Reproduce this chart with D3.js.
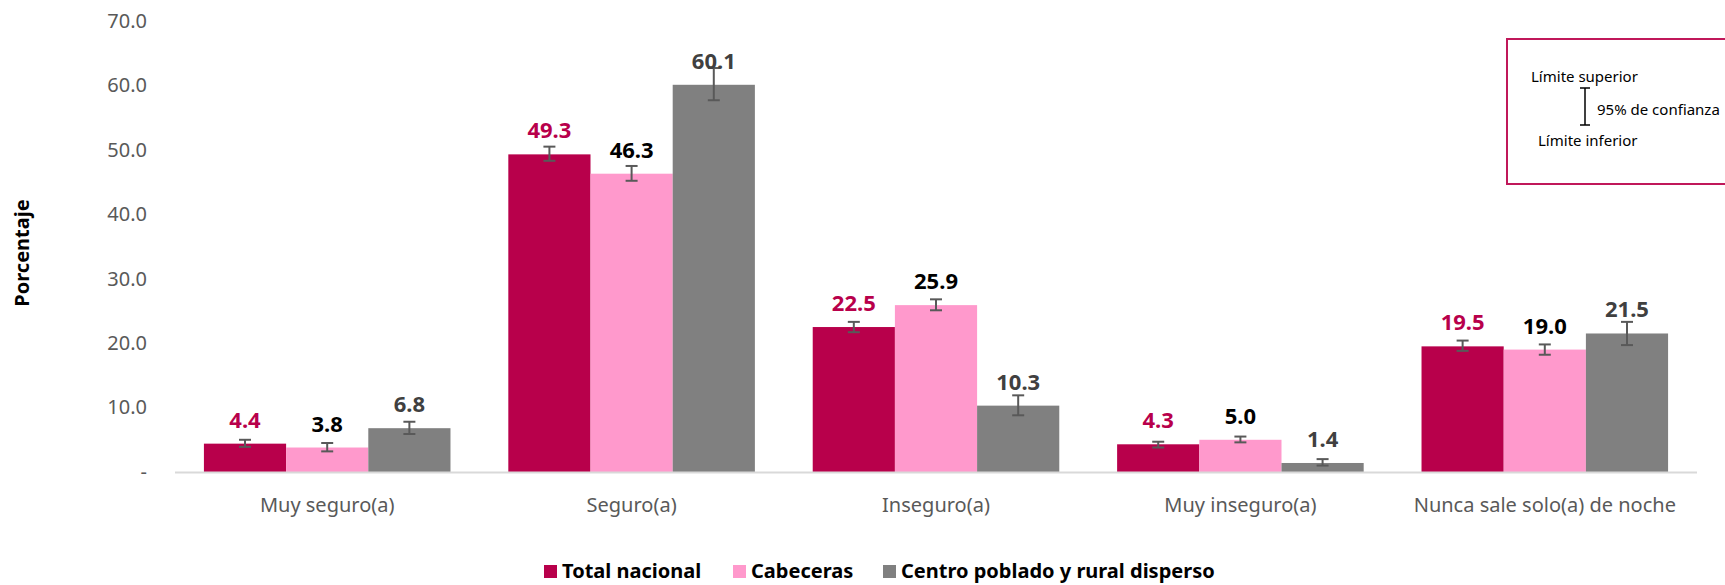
<!DOCTYPE html>
<html>
<head>
<meta charset="utf-8">
<script src="https://cdn.jsdelivr.net/npm/d3@7"></script>
<style>
  body { margin: 0; background: #fff; }
  svg text { font-family: "Noto Sans", "Open Sans", sans-serif; }
</style>
</head>
<body>
<div class="chart"></div>
<script>
var categories = ["Muy seguro(a)", "Seguro(a)", "Inseguro(a)", "Muy inseguro(a)", "Nunca sale solo(a) de noche"];
var seriesNames = ["Total nacional", "Cabeceras", "Centro poblado y rural disperso"];

var totalValues = [4.4, 49.3, 22.5, 4.3, 19.5];
var totalLow    = [3.9, 48.3, 21.7, 3.8, 18.8];
var totalHigh   = [5.0, 50.5, 23.3, 4.7, 20.4];

var cabecerasValues = [3.8, 46.3, 25.9, 5.0, 19.0];
var cabecerasLow    = [3.2, 45.2, 25.1, 4.6, 18.2];
var cabecerasHigh   = [4.5, 47.5, 26.8, 5.5, 19.8];

var centroValues = [6.8, 60.1, 10.3, 1.4, 21.5];
var centroLow    = [5.9, 57.7, 8.8, 1.0, 19.7];
var centroHigh   = [7.8, 62.7, 11.9, 2.0, 23.3];

var yTicks = [0, 10, 20, 30, 40, 50, 60, 70];

var width = 1725, height = 585;
var barColors = ["#b8004b", "#ff99cc", "#808080"];
var labelColors = ["#b8004b", "#000000", "#404040"];

var series = [
  {name: seriesNames[0], values: totalValues, low: totalLow, high: totalHigh},
  {name: seriesNames[1], values: cabecerasValues, low: cabecerasLow, high: cabecerasHigh},
  {name: seriesNames[2], values: centroValues, low: centroLow, high: centroHigh}
];

var svg = d3.select(".chart")
  .append("svg")
  .attr("width", width)
  .attr("height", height);

var x0 = d3.scaleBand()
  .domain(categories)
  .range([175, 1697])
  .paddingInner(0.19)
  .paddingOuter(0.095);

var x1 = d3.scaleBand()
  .domain(d3.range(series.length))
  .range([0, x0.bandwidth()]);

var y = d3.scaleLinear()
  .domain([0, 70])
  .range([472, 21]);

// y axis labels (no line)
var yAxis = svg.append("g")
  .attr("transform", "translate(150,0)")
  .call(d3.axisLeft(y).tickValues(yTicks).tickSize(0).tickPadding(3)
    .tickFormat(function(d){ return d === 0 ? "-" : d.toFixed(1) }));
yAxis.select(".domain").remove();
yAxis.selectAll("text")
  .style("font-size", "20px")
  .style("fill", "#595959");

svg.append("text")
  .attr("transform", "translate(29,253) rotate(-90)")
  .attr("text-anchor", "middle")
  .style("font-size", "20px")
  .style("font-weight", "bold")
  .style("fill", "#000")
  .text("Porcentaje");

var groups = svg.selectAll(".grupo")
  .data(categories)
  .enter().append("g")
  .attr("class", "grupo")
  .attr("transform", function(d){ return "translate(" + x0(d) + ",0)" });

series.forEach(function(s, i){
  groups.append("rect")
    .attr("x", x1(i))
    .attr("y", function(d, j){ return y(s.values[j]) })
    .attr("width", x1.bandwidth())
    .attr("height", function(d, j){ return y(0) - y(s.values[j]) })
    .attr("fill", barColors[i]);
});

// x axis line
svg.append("line")
  .attr("x1", 175).attr("x2", 1697)
  .attr("y1", y(0) + 0.5).attr("y2", y(0) + 0.5)
  .style("stroke", "#d9d9d9")
  .style("stroke-width", 2);

// error bars
series.forEach(function(s, i){
  var cx = function(d){ return x1(i) + x1.bandwidth() / 2 };
  groups.append("line")
    .attr("x1", cx).attr("x2", cx)
    .attr("y1", function(d, j){ return y(s.low[j]) })
    .attr("y2", function(d, j){ return y(s.high[j]) })
    .style("stroke", "#595959").style("stroke-width", 2);
  [s.low, s.high].forEach(function(arr){
    groups.append("line")
      .attr("x1", function(d){ return cx(d) - 6 })
      .attr("x2", function(d){ return cx(d) + 6 })
      .attr("y1", function(d, j){ return y(arr[j]) })
      .attr("y2", function(d, j){ return y(arr[j]) })
      .style("stroke", "#595959").style("stroke-width", 2);
  });
  groups.append("text")
    .attr("x", cx)
    .attr("y", function(d, j){ return y(s.values[j]) - 16 })
    .attr("text-anchor", "middle")
    .style("font-size", "22px")
    .style("font-weight", "bold")
    .style("fill", labelColors[i])
    .text(function(d, j){ return s.values[j].toFixed(1) });
});

// category labels
groups.append("text")
  .attr("x", x0.bandwidth() / 2)
  .attr("y", 512)
  .attr("text-anchor", "middle")
  .style("font-size", "20px")
  .style("fill", "#595959")
  .text(function(d){ return d });

// legend
var legendX = [544, 733, 883];
var legend = svg.selectAll(".leyenda")
  .data(series)
  .enter().append("g")
  .attr("class", "leyenda")
  .attr("transform", function(d, i){ return "translate(" + legendX[i] + ",565)" });
legend.append("rect")
  .attr("width", 13).attr("height", 13)
  .attr("fill", function(d, i){ return barColors[i] });
legend.append("text")
  .attr("x", 18).attr("y", 13)
  .style("font-size", "20px")
  .style("font-weight", "bold")
  .style("fill", "#000")
  .text(function(d){ return d.name });

// confidence box
var box = svg.append("g");
box.append("rect")
  .attr("x", 1507).attr("y", 39)
  .attr("width", 230).attr("height", 145)
  .style("fill", "none")
  .style("stroke", "#c0185a")
  .style("stroke-width", 2);
box.append("text").attr("x", 1531).attr("y", 82)
  .style("font-size", "15px").text("Límite superior");
box.append("text").attr("x", 1597).attr("y", 115)
  .style("font-size", "15px").text("95% de confianza");
box.append("text").attr("x", 1538).attr("y", 146)
  .style("font-size", "15px").text("Límite inferior");
box.append("line").attr("x1", 1585).attr("x2", 1585).attr("y1", 88).attr("y2", 125)
  .style("stroke", "#000").style("stroke-width", 1.5);
box.append("line").attr("x1", 1580).attr("x2", 1590).attr("y1", 88).attr("y2", 88)
  .style("stroke", "#000").style("stroke-width", 1.5);
box.append("line").attr("x1", 1580).attr("x2", 1590).attr("y1", 125).attr("y2", 125)
  .style("stroke", "#000").style("stroke-width", 1.5);
</script>
</body>
</html>
